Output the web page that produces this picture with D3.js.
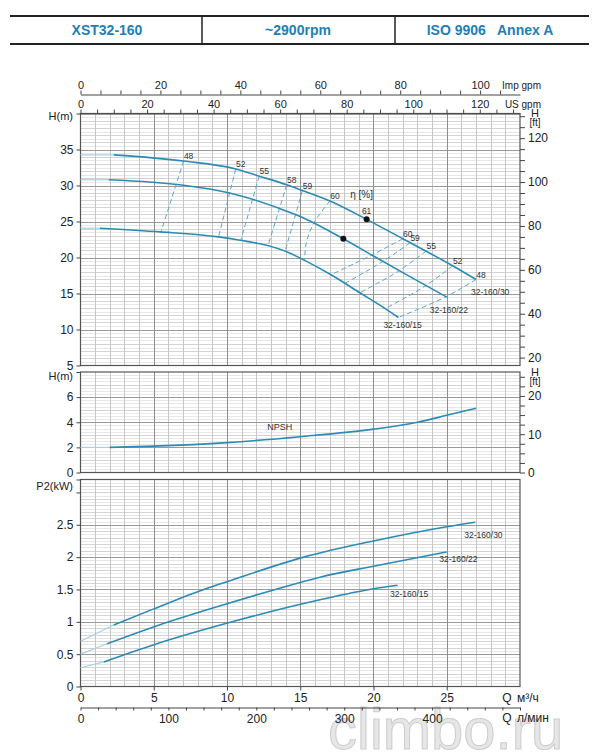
<!DOCTYPE html>
<html>
<head>
<meta charset="utf-8">
<script src="https://cdn.jsdelivr.net/npm/d3@7"></script>
<style>
  body { margin: 0; background: #fff; }
  svg { font-family: Arial, "Liberation Sans", sans-serif; }
</style>
</head>
<body>
<div id="chart"></div>
<script>
// header cells
const headerTexts = ["XST32-160", "~2900rpm", "ISO 9906   Annex A"];
const seriesNames = ["32-160/30", "32-160/22", "32-160/15"];

// Q-H curves (Q in m3/h, H in m); first point is the faint start at Q=0
const qH30 = [0, 2.27, 7.04, 10.6, 12.2, 14.08, 15.15, 17.03, 19.53, 22.0, 25.4, 27.0];
const h30  = [34.25, 34.25, 33.4, 32.3, 31.3, 30.1, 29.3, 27.86, 25.3, 22.6, 18.85, 16.94];
const qH22 = [0, 1.93, 7.04, 10.1, 11.8, 13.6, 15.0, 17.94, 20.0, 22.0, 25.0];
const h22  = [30.8, 30.8, 30.04, 29.0, 28.05, 26.8, 25.7, 22.6, 20.2, 17.9, 14.5];
const qH15 = [0, 1.32, 5.45, 9.42, 10.9, 12.7, 14.08, 15.3, 17.1, 19.07, 20.8, 21.7];
const h15  = [24.07, 24.07, 23.56, 22.86, 22.4, 21.7, 20.8, 19.6, 17.6, 15.1, 12.9, 11.67];

// iso-efficiency lines, left group (straight)
const effLeftLabels = ["48", "52", "55", "58", "59"];
const effLeftQTop = [7.04, 10.6, 12.2, 14.08, 15.15];
const effLeftHTop = [33.4, 32.3, 31.3, 30.1, 29.3];
const effLeftQBot = [5.5, 9.42, 10.95, 12.8, 13.96];
const effLeftHBot = [23.6, 22.86, 22.45, 21.65, 20.85];
// 60 % on the left side (curved)
const eff60Q = [17.03, 15.9, 15.4, 15.3];
const eff60H = [27.86, 24.7, 21.9, 19.55];
// right group (curved)
const effRightLabels = ["60", "59", "55", "52", "48"];
const effRightQTop = [22.0, 22.5, 23.6, 25.4, 27.0];
const effRightHTop = [22.6, 22.05, 20.9, 18.85, 16.94];
const effRightQMid = [19.85, 20.6, 21.7, 23.5, 24.85];
const effRightHMid = [20.3, 19.4, 18.1, 16.0, 14.45];
const effRightQBot = [17.1, 18.05, 19.07, 20.8, 21.7];
const effRightHBot = [17.6, 16.4, 15.1, 12.9, 11.67];
// best efficiency points
const bepQ = [19.53, 17.94];
const bepH = [25.3, 22.6];

// NPSH
const qNpsh = [0, 2.0, 5, 10, 15, 20, 23, 25, 27];
const npsh  = [2.0, 2.0, 2.1, 2.38, 2.85, 3.45, 4.0, 4.55, 5.12];

// P2 power (kW)
const qP30 = [0, 2.27, 5, 8.42, 10, 15.24, 20, 25, 26.95];
const p30  = [0.7, 0.95, 1.2, 1.5, 1.62, 2.0, 2.25, 2.47, 2.54];
const qP22 = [0, 1.82, 6.03, 10, 13.3, 16.35, 20, 25];
const p22  = [0.5, 0.66, 1.0, 1.28, 1.5, 1.69, 1.86, 2.08];
const qP15 = [0, 1.59, 5.06, 10.35, 16.35, 20, 21.64];
const p15  = [0.29, 0.38, 0.65, 1.0, 1.34, 1.51, 1.565];

// tick labels
const qTicks = [0, 5, 10, 15, 20, 25];
const headTicks = [5, 10, 15, 20, 25, 30, 35];
const npshTicks = [0, 2, 4, 6];
const powerTicks = [0, 0.5, 1, 1.5, 2, 2.5];

// unit conversions
const IMP_GPM = 3.6662, US_GPM = 4.4029, LPM = 16.6667, FT = 0.3048;

const W = 598, H = 752;
const blue = "#2b8bb5", faint = "#a9d0e3", dashBlue = "#5fa6cc";

const svg = d3.select("#chart").append("svg").attr("width", W).attr("height", H);

// header
svg.append("line").attr("x1", 10).attr("x2", 589).attr("y1", 16).attr("y2", 16).attr("stroke", "#222").attr("stroke-width", 2);
svg.append("line").attr("x1", 10).attr("x2", 589).attr("y1", 44).attr("y2", 44).attr("stroke", "#222").attr("stroke-width", 2);
[202, 395].forEach(v => svg.append("line").attr("x1", v).attr("x2", v).attr("y1", 16).attr("y2", 44).attr("stroke", "#222").attr("stroke-width", 1.5));
svg.selectAll(".hdr").data(headerTexts).join("text")
  .attr("x", (d, i) => [107, 298, 490][i]).attr("y", 35)
  .attr("text-anchor", "middle").attr("font-size", 14).attr("font-weight", "bold")
  .attr("fill", "#1e80b6").style("white-space", "pre")
  .text(d => d);

const x = d3.scaleLinear().domain([0, 30]).range([80.5, 520]);
const yHead = d3.scaleLinear().domain([5, 40]).range([365.5, 113.5]);
const yNpsh = d3.scaleLinear().domain([0, 8]).range([472.5, 372]);
const yPow = d3.scaleLinear().domain([0, 3.2]).range([686.5, 479.5]);

function crisp(v) { return Math.round(v) + 0.5; }

function drawGrid(y, minor, mid, major) {
  const g = svg.append("g");
  const [d0, d1] = y.domain();
  const hl = (step, color) => {
    const n = Math.round((d1 - d0) / step);
    g.append("g").selectAll("line").data(d3.range(1, n).map(i => d0 + i * step))
      .join("line").attr("x1", x(0)).attr("x2", x(30))
      .attr("y1", d => crisp(y(d))).attr("y2", d => crisp(y(d)))
      .attr("stroke", color);
  };
  const vl = (step, color) => {
    g.append("g").selectAll("line").data(d3.range(step, 30, step))
      .join("line").attr("x1", d => crisp(x(d))).attr("x2", d => crisp(x(d)))
      .attr("y1", y.range()[0]).attr("y2", y.range()[1])
      .attr("stroke", color);
  };
  hl(minor, "#e8e8e8");
  hl(mid, "#d4d4d4");
  vl(1, "#c6c6c6");
  hl(major, "#9a9a9a");
  vl(5, "#8e8e8e");
  g.append("rect").attr("x", x(0)).attr("y", y.range()[1])
    .attr("width", x(30) - x(0)).attr("height", y.range()[0] - y.range()[1])
    .attr("fill", "none").attr("stroke", "#555").attr("stroke-width", 1.2);
}

function styleAxis(g, size) {
  g.attr("font-size", size).attr("font-family", null);
  g.selectAll("line").attr("stroke", "#444");
  g.selectAll("path").attr("stroke", "#444");
  g.selectAll("text").attr("fill", "#222");
}

drawGrid(yHead, 0.5, 1, 5);
drawGrid(yNpsh, 0.25, 1, 2);
drawGrid(yPow, 0.05, 0.1, 0.5);

// left axes
function leftAxis(y, ticks, fmt, title, titleY) {
  const g = svg.append("g").attr("transform", `translate(${x(0)},0)`)
    .call(d3.axisLeft(y).tickValues(ticks).tickFormat(fmt).tickSize(4).tickPadding(3));
  g.select(".domain").remove();
  styleAxis(g, 12);
  svg.append("text").attr("x", 73).attr("y", titleY).attr("dy", "0.35em")
    .attr("text-anchor", "end").attr("font-size", 11).attr("fill", "#222").text(title);
  svg.append("line").attr("x1", x(0) - 4).attr("x2", x(0))
    .attr("y1", y.range()[1] + 0.5).attr("y2", y.range()[1] + 0.5).attr("stroke", "#444");
}
leftAxis(yHead, headTicks, d3.format("d"), "H(m)", 116);
leftAxis(yNpsh, npshTicks, d3.format("d"), "H(m)", 376);
leftAxis(yPow, powerTicks.concat([3]), d => d === 3 ? "" : String(d), "P2(kW)", 486);

// right ft axes
function ftAxis(y, step, labelStep, top) {
  const [m0, m1] = y.domain();
  const ft = d3.scaleLinear().domain([m0 / FT, m1 / FT]).range(y.range());
  const vals = d3.range(Math.ceil(m0 / FT / step) * step, m1 / FT, step);
  const g = svg.append("g").attr("transform", `translate(${x(30)},0)`)
    .call(d3.axisRight(ft).tickValues(vals).tickSize(5).tickPadding(3)
      .tickFormat(d => d % labelStep === 0 ? d : ""));
  g.select(".domain").remove();
  styleAxis(g, 12);
  svg.append("text").attr("x", 535).attr("y", top).attr("text-anchor", "middle")
    .attr("font-size", 11).attr("fill", "#222").text("H");
  svg.append("text").attr("x", 535).attr("y", top + 9).attr("text-anchor", "middle")
    .attr("font-size", 10).attr("fill", "#222").text("[ft]");
}
ftAxis(yHead, 5, 20, 117);
ftAxis(yNpsh, 2.5, 10, 376);

// top flow axes
function topAxis(factor, yPos, step, labelStep, maxLabel, unit) {
  const s = d3.scaleLinear().domain([0, 30 * factor]).range(x.range());
  const g = svg.append("g").attr("transform", `translate(0,${yPos})`)
    .call(d3.axisTop(s).tickValues(d3.range(0, 30 * factor + 0.01, step)).tickSize(4).tickSizeOuter(0).tickPadding(2)
      .tickFormat(d => (d % labelStep === 0 && d <= maxLabel) ? d : ""));
  styleAxis(g, 11);
  svg.append("text").attr("x", 541).attr("y", yPos - 6).attr("text-anchor", "end")
    .attr("font-size", 10).attr("fill", "#222").text(unit);
}
topAxis(IMP_GPM, 94.5, 5, 20, 100, "Imp gpm");
topAxis(US_GPM, 113.5, 5, 20, 120, "US gpm");

// bottom flow axes
const gq = svg.append("g").attr("transform", `translate(0,${yPow.range()[0]})`)
  .call(d3.axisBottom(x).tickValues(qTicks).tickSize(4).tickPadding(3));
gq.select(".domain").remove();
styleAxis(gq, 12);
const lpm = d3.scaleLinear().domain([0, 30 * LPM]).range(x.range());
const gl = svg.append("g").attr("transform", "translate(0,707.5)")
  .call(d3.axisBottom(lpm).tickValues(d3.range(0, 501, 20)).tickSize(3).tickSizeOuter(0).tickPadding(4)
    .tickFormat(d => (d % 100 === 0 && d < 500) ? d : ""));
styleAxis(gl, 12);
[["Q", "м³/ч", 702], ["Q", "л/мин", 722]].forEach(([q, u, yy]) => {
  svg.append("text").attr("x", 507).attr("y", yy).attr("text-anchor", "middle")
    .attr("font-size", 12).attr("fill", "#222").text(q);
  svg.append("text").attr("x", 517).attr("y", yy).attr("font-size", 12).attr("fill", "#222").text(u);
});

// curves
function drawCurve(qs, vs, y, width) {
  const pts = qs.map((q, i) => [q, vs[i]]);
  const line = d3.line().x(d => x(d[0])).y(d => y(d[1])).curve(d3.curveMonotoneX);
  svg.append("path").attr("d", line(pts.slice(0, 2))).attr("fill", "none")
    .attr("stroke", faint).attr("stroke-width", 1.2);
  svg.append("path").attr("d", line(pts.slice(1))).attr("fill", "none")
    .attr("stroke", blue).attr("stroke-width", width);
  return pts;
}

// efficiency dashed lines
const dashLine = d3.line().x(d => x(d[0])).y(d => yHead(d[1])).curve(d3.curveCatmullRom.alpha(0.5));
function dashed(pts) {
  svg.append("path").attr("d", dashLine(pts)).attr("fill", "none")
    .attr("stroke", dashBlue).attr("stroke-width", 1).attr("stroke-dasharray", "5,3");
}
effLeftLabels.forEach((l, i) => dashed([[effLeftQTop[i], effLeftHTop[i]], [effLeftQBot[i], effLeftHBot[i]]]));
dashed(eff60Q.map((q, i) => [q, eff60H[i]]));
effRightLabels.forEach((l, i) => dashed([
  [effRightQTop[i], effRightHTop[i]], [effRightQMid[i], effRightHMid[i]], [effRightQBot[i], effRightHBot[i]]]));

const headSets = [[qH30, h30], [qH22, h22], [qH15, h15]];
const headLabelOffset = [[-5, 15.5], [-17, 15.5], [-15, 11]];
headSets.forEach(([q, h], i) => {
  const pts = drawCurve(q, h, yHead, 1.6);
  const last = pts[pts.length - 1];
  svg.append("text").attr("x", x(last[0]) + headLabelOffset[i][0]).attr("y", yHead(last[1]) + headLabelOffset[i][1])
    .attr("font-size", 8.5).attr("fill", "#333").text(seriesNames[i]);
});

// efficiency labels
const effLabel = (t, q, h) => svg.append("text").attr("x", x(q) + 5).attr("y", yHead(h) - 2)
  .attr("text-anchor", "middle").attr("font-size", 8.5).attr("fill", "#333").text(t);
effLeftLabels.forEach((l, i) => effLabel(l, effLeftQTop[i], effLeftHTop[i]));
effLabel("60", eff60Q[0], eff60H[0]);
effRightLabels.forEach((l, i) => effLabel(l, effRightQTop[i], effRightHTop[i]));

// best efficiency dots
svg.selectAll(".bep").data(bepQ).join("circle")
  .attr("cx", d => x(d)).attr("cy", (d, i) => yHead(bepH[i])).attr("r", 3).attr("fill", "#111");
svg.append("text").attr("x", x(bepQ[0])).attr("y", yHead(bepH[0]) - 5)
  .attr("text-anchor", "middle").attr("font-size", 8.5).attr("fill", "#333").text("61");
svg.append("text").attr("x", x(bepQ[0]) - 5).attr("y", yHead(bepH[0]) - 21)
  .attr("text-anchor", "middle").attr("font-size", 10).attr("fill", "#333").text("η [%]");

// NPSH
drawCurve(qNpsh, npsh, yNpsh, 1.6);
svg.append("text").attr("x", x(13.6)).attr("y", yNpsh(3.35)).attr("text-anchor", "middle")
  .attr("font-size", 9).attr("fill", "#333").text("NPSH");

// power curves
const powSets = [[qP30, p30], [qP22, p22], [qP15, p15]];
const powLabelOffset = [[-11, 16], [-7.5, 10], [-7.5, 11.5]];
powSets.forEach(([q, p], i) => {
  const pts = drawCurve(q, p, yPow, 1.6);
  const last = pts[pts.length - 1];
  svg.append("text").attr("x", x(last[0]) + powLabelOffset[i][0]).attr("y", yPow(last[1]) + powLabelOffset[i][1])
    .attr("font-size", 8.5).attr("fill", "#333").text(seriesNames[i]);
});

// watermark (sits under the axis texts in the reference too)
svg.insert("text", ":first-child").attr("x", 328).attr("y", 749).attr("font-size", 58)
  .attr("fill", "#e6e6e6").attr("stroke", "#cdcdcd").attr("stroke-width", 1)
  .text("climbo.ru");
</script>
</body>
</html>
